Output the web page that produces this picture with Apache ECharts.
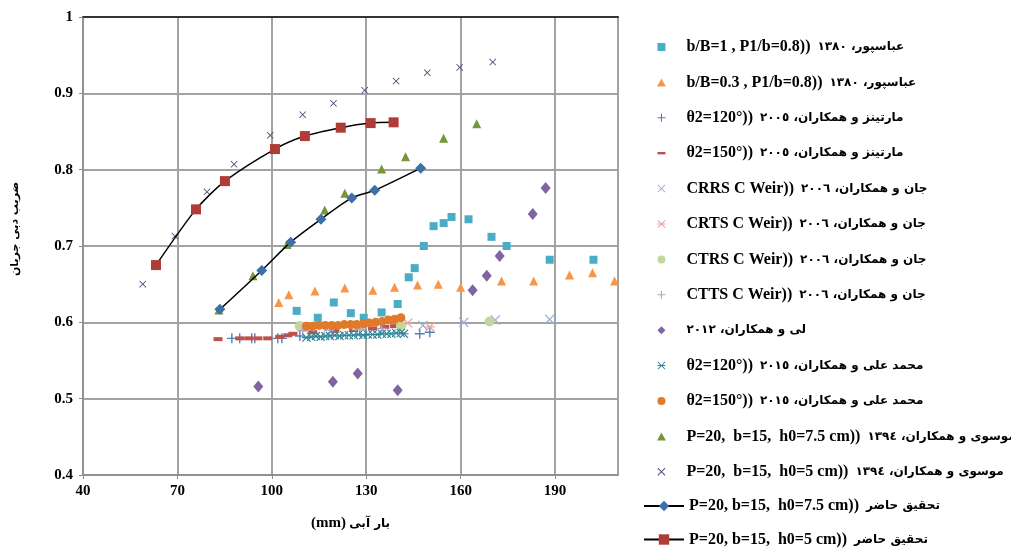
<!DOCTYPE html>
<html>
<head>
<meta charset="utf-8">
<script src="https://cdn.jsdelivr.net/npm/echarts@6/dist/echarts.min.js"></script>
<style>
  html, body { margin: 0; padding: 0; background: #fff; }
  #chart { width: 1011px; height: 550px; }
</style>
</head>
<body>
<div id="chart"></div>
<script>
// ---- data (x: head in mm, y: discharge coefficient) ----
const abbaspour1 = [[107.9,0.615],[114.6,0.606],[119.7,0.626],[125.1,0.612],[129.2,0.606],[134.9,0.613],[140.0,0.624],[143.5,0.659],[145.4,0.671],[148.3,0.700],[151.4,0.726],[154.6,0.730],[157.1,0.738],[162.5,0.735],[169.8,0.712],[174.6,0.700],[188.3,0.682],[202.2,0.682]];
const abbaspour2 = [[102.2,0.626],[105.4,0.636],[113.7,0.641],[123.2,0.645],[132.1,0.642],[139.0,0.646],[146.3,0.649],[152.9,0.650],[160.0,0.646],[173.0,0.654],[183.2,0.654],[194.6,0.662],[201.9,0.665],[208.9,0.654]];
const martinez120 = [[87.3,0.579],[89.8,0.579],[93.6,0.579],[94.6,0.579],[101.9,0.579],[103.2,0.579],[108.9,0.582],[147.0,0.585],[150.2,0.587]];
const martinez150 = [[82.9,0.578],[89.8,0.579],[92.7,0.579],[95.6,0.579],[98.7,0.579],[102.5,0.581],[105.1,0.583],[106.7,0.585],[113,0.587],[120,0.589],[126,0.590],[132,0.592],[135.9,0.594],[139,0.595]];
const janCRRS = [[109.8,0.595],[118,0.594],[148,0.596],[161,0.600],[171,0.603],[188.3,0.604]];
const janCRTS = [[112,0.594],[128,0.595],[143.2,0.599],[150.2,0.594]];
const janCTRS = [[108.9,0.595],[126.3,0.596],[141.0,0.595],[169.2,0.601]];
const janCTTS = [[109.8,0.589],[118.4,0.590],[128,0.591],[135,0.592]];
const li2012 = [[95.7,0.516],[119.4,0.522],[127.3,0.533],[140.0,0.511],[163.8,0.642],[168.3,0.661],[172.4,0.687],[182.9,0.742],[187.0,0.776]];
const mohammad120 = [[111,0.580],[112.5,0.581],[114,0.582],[115.5,0.581],[117,0.582],[118.5,0.582],[120,0.583],[121.5,0.582],[123,0.583],[124.5,0.583],[126,0.583],[127.5,0.584],[129,0.583],[130.5,0.584],[132,0.584],[133.5,0.584],[135,0.585],[136.5,0.585],[138,0.585],[139.5,0.586],[141,0.586],[142,0.585]];
const mohammad150 = [[111,0.595],[113,0.595],[115,0.596],[117,0.596],[119,0.596],[121,0.596],[123,0.597],[125,0.597],[127,0.597],[129,0.598],[131,0.599],[133,0.600],[135,0.601],[137,0.603],[139,0.604],[141,0.606]];
const mousavi75 = [[83.2,0.616],[94.0,0.661],[104.8,0.702],[116.8,0.747],[123.2,0.769],[134.9,0.801],[142.5,0.817],[154.6,0.841],[165.1,0.860]];
const mousavi5 = [[59.0,0.650],[69.2,0.713],[79.4,0.771],[88.0,0.807],[99.5,0.845],[109.8,0.872],[119.6,0.887],[129.5,0.904],[139.5,0.916],[149.4,0.927],[159.7,0.934],[170.2,0.941]];
const present75 = [[83.5,0.617],[96.8,0.668],[106.0,0.705],[115.6,0.735],[125.4,0.763],[132.7,0.773],[147.3,0.802]];
const present5 = [[63.2,0.675],[75.9,0.748],[85.1,0.785],[101.0,0.827],[110.5,0.844],[121.9,0.855],[131.4,0.861],[138.7,0.862]];

// legend labels: latin part | persian part
const latinLabels = [
  "b/B=1 , P1/b=0.8))", "b/B=0.3 , P1/b=0.8))", "θ2=120°))", "θ2=150°))",
  "CRRS C Weir))", "CRTS C Weir))", "CTRS C Weir))", "CTTS C Weir))", "",
  "θ2=120°))", "θ2=150°))", "P=20,  b=15,  h0=7.5 cm))", "P=20,  b=15,  h0=5 cm))",
  "P=20, b=15,  h0=7.5 cm))", "P=20, b=15,  h0=5 cm))"
];
const persianLabels = [
  "عباسپور، ١٣٨٠", "عباسپور، ١٣٨٠", "مارتینز و همکاران، ٢٠٠٥", "مارتینز و همکاران، ٢٠٠٥",
  "جان و همکاران، ٢٠٠٦", "جان و همکاران، ٢٠٠٦", "جان و همکاران، ٢٠٠٦", "جان و همکاران، ٢٠٠٦",
  "لی و همکاران، ٢٠١٢", "محمد علی و همکاران، ٢٠١٥", "محمد علی و همکاران، ٢٠١٥",
  "موسوی و همکاران، ١٣٩٤", "موسوی و همکاران، ١٣٩٤", "تحقیق حاضر", "تحقیق حاضر"
];
const xTicks = [40, 70, 100, 130, 160, 190];
const yTicks = [0.4, 0.5, 0.6, 0.7, 0.8, 0.9, 1];

// symbols
const SQUARE = "path://M0,0h10v10h-10z";
const TRIANGLE = "path://M5,0L10,9L0,9Z";
const PLUS = "path://M4.3,0h1.4v4.3h4.3v1.4h-4.3v4.3h-1.4v-4.3h-4.3v-1.4h4.3z";
const DASH = "path://M0,0M10,10M0,3.5h10v3h-10z";
const CROSS = "path://M0,0.9L0.9,0L5,4.1L9.1,0L10,0.9L5.9,5L10,9.1L9.1,10L5,5.9L0.9,10L0,9.1L4.1,5Z";
const STAR = CROSS + "M0,4.4h10v1.2h-10z";
const DIAMOND = "path://M5,0L10,5L5,10L0,5Z";

const names = latinLabels.map((l, i) => l + "|" + persianLabels[i]);

const scatterDefs = [
  [abbaspour1, "#4bacc6", SQUARE, 8],
  [abbaspour2, "#f79646", TRIANGLE, 9],
  [martinez120, "#4f81bd", PLUS, 10],
  [martinez150, "#c0504d", "rect", [9, 4]],
  [janCRRS, "#95b3d7", CROSS, 10],
  [janCRTS, "#e6a5a3", STAR, 10],
  [janCTRS, "#c3d69b", "circle", 10],
  [janCTTS, "#b3a2c7", PLUS, 10],
  [li2012, "#8064a2", "diamond", [10, 12]],
  [mohammad120, "#31869b", STAR, 9],
  [mohammad150, "#e0792a", "circle", 9],
  [mousavi75, "#77963c", TRIANGLE, 9],
  [mousavi5, "#604a7b", CROSS, 7]
];
const legendIcons = [SQUARE, TRIANGLE, PLUS, DASH, CROSS, STAR, "circle", PLUS, DIAMOND, STAR, "circle", TRIANGLE, CROSS];

const series = scatterDefs.map((d, i) => ({
  name: names[i],
  type: "scatter",
  data: d[0],
  symbol: d[2],
  symbolSize: d[3],
  itemStyle: { color: d[1], opacity: 1 },
  silent: true
}));
series.push({
  name: names[13], type: "line", data: present75, smooth: 0.25,
  symbol: "diamond", symbolSize: 11, showAllSymbol: true,
  lineStyle: { color: "#000", width: 1.5 }, itemStyle: { color: "#3d6fa8" }
});
series.push({
  name: names[14], type: "line", data: present5, smooth: 0.25,
  symbol: "rect", symbolSize: 10, showAllSymbol: true,
  lineStyle: { color: "#000", width: 1.5 }, itemStyle: { color: "#b03c38" }
});

const rich = {
  a: { fontFamily: "Liberation Serif", fontWeight: "bold", fontSize: 16, color: "#000", lineHeight: 18, height: 18 },
  b: { fontFamily: "DejaVu Sans", fontWeight: "bold", fontSize: 12, color: "#000", lineHeight: 18, height: 18, padding: [0, 0, 0, 7] },
  c: { fontFamily: "DejaVu Sans", fontWeight: "bold", fontSize: 12, color: "#000", lineHeight: 18, height: 18 }
};
function legendLabel(name) {
  const p = name.split("|");
  if (!p[0]) return "{c|" + p[1] + "}";
  return "{a|" + p[0] + "}{b|" + p[1] + "}";
}

const GRID_COLOR = "#a3a3a3";
const LABEL_FONT = { fontFamily: "Liberation Serif", fontWeight: "bold", fontSize: 15, color: "#000" };

const chart = echarts.init(document.getElementById("chart"), null, { renderer: "canvas" });
chart.setOption({
  animation: false,
  backgroundColor: "#fff",
  grid: { left: 83, right: 393, top: 17, bottom: 75 },
  legend: [
    {
      orient: "vertical", left: 657, top: 38, padding: 0, itemWidth: 40, itemHeight: 8, itemGap: 17.4,
      selectedMode: false, symbolKeepAspect: true,
      data: names.slice(0, 13).map((n, i) => ({ name: n, icon: legendIcons[i] })),
      formatter: legendLabel, textStyle: { rich: rich }
    },
    {
      orient: "vertical", left: 643, top: 497, padding: 0, itemWidth: 40, itemHeight: 13, itemGap: 15.5,
      selectedMode: false,
      data: names.slice(13),
      formatter: legendLabel, textStyle: { rich: rich }
    }
  ],
  xAxis: [
    {
      type: "value", min: xTicks[0], max: 210, interval: 30,
      name: "{n|(mm)} {m|بار آبی}", nameLocation: "middle", nameGap: 41,
      nameTextStyle: { rich: {
        n: { fontFamily: "Liberation Serif", fontWeight: "bold", fontSize: 15, color: "#000" },
        m: { fontFamily: "DejaVu Sans", fontWeight: "bold", fontSize: 12, color: "#000" }
      } },
      axisLine: { show: true, lineStyle: { color: "#8c8c8c", width: 1.5 } },
      axisTick: { show: true, length: 4, lineStyle: { color: "#8c8c8c" } },
      axisLabel: Object.assign({ margin: 9, showMaxLabel: false }, LABEL_FONT),
      splitLine: { show: true, lineStyle: { color: GRID_COLOR, width: 2 } }
    },
    {
      type: "value", position: "top", min: xTicks[0], max: 210, interval: 30,
      axisLine: { show: true, lineStyle: { color: "#333", width: 2 } },
      axisTick: { show: false }, axisLabel: { show: false }, splitLine: { show: false }
    }
  ],
  yAxis: [
    {
      type: "value", min: yTicks[0], max: yTicks[yTicks.length - 1], interval: 0.1,
      name: "ضریب دبی جریان", nameLocation: "middle", nameGap: 62,
      nameTextStyle: { fontFamily: "DejaVu Sans", fontWeight: "bold", fontSize: 11, color: "#000", padding: [0, 0, 0, 34] },
      axisLine: { show: true, lineStyle: { color: "#8c8c8c", width: 1.5 } },
      axisTick: { show: true, length: 4, lineStyle: { color: "#8c8c8c" } },
      axisLabel: Object.assign({ margin: 10, formatter: v => String(Math.round(v * 10) / 10) }, LABEL_FONT),
      splitLine: { show: true, lineStyle: { color: GRID_COLOR, width: 2 } }
    },
    {
      type: "value", position: "right", min: 0.4, max: 1,
      axisLine: { show: true, lineStyle: { color: GRID_COLOR, width: 2 } },
      axisTick: { show: false }, axisLabel: { show: false }, splitLine: { show: false }
    }
  ],
  series: series
});
</script>
</body>
</html>
